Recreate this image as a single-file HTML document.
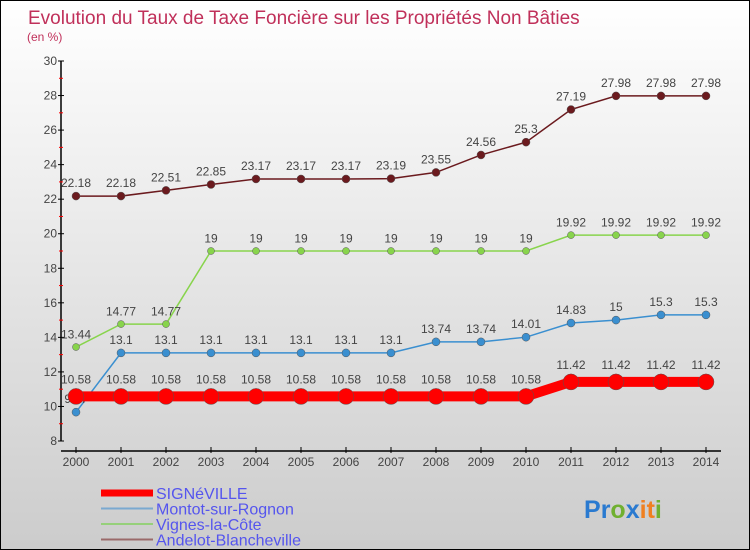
<!DOCTYPE html>
<html><head><meta charset="utf-8"><style>
body{margin:0}
#c{width:750px;height:550px;position:relative;overflow:hidden;background:linear-gradient(#fff,#ccc);box-sizing:border-box;border:1px solid #000;font-family:"Liberation Sans",sans-serif}
</style></head><body>
<div id="c">
<svg id="s" width="750" height="550"></svg>
</div>
<script>
const years=[2000,2001,2002,2003,2004,2005,2006,2007,2008,2009,2010,2011,2012,2013,2014];
const signeville=[10.58,10.58,10.58,10.58,10.58,10.58,10.58,10.58,10.58,10.58,10.58,11.42,11.42,11.42,11.42];
const montot=[9.67,13.1,13.1,13.1,13.1,13.1,13.1,13.1,13.74,13.74,14.01,14.83,15,15.3,15.3];
const vignes=[13.44,14.77,14.77,19,19,19,19,19,19,19,19,19.92,19.92,19.92,19.92];
const andelot=[22.18,22.18,22.51,22.85,23.17,23.17,23.17,23.19,23.55,24.56,25.3,27.19,27.98,27.98,27.98];
const yTicks=[8,10,12,14,16,18,20,22,24,26,28,30];
const seriesNames=["SIGNéVILLE","Montot-sur-Rognon","Vignes-la-Côte","Andelot-Blancheville"];
const NS="http://www.w3.org/2000/svg",s=document.getElementById('s');
const X=i=>75+i*45, Y=v=>440-(v-8)*(380/22);
function el(t,a,txt){const e=document.createElementNS(NS,t);for(const k in a)e.setAttribute(k,a[k]);if(txt!==undefined)e.textContent=txt;s.appendChild(e);return e;}
let e;
e=el('text',{x:27,y:23,'font-size':19,fill:'#c0305a'},'Evolution du Taux de Taxe Foncière sur les Propriétés Non Bâties');

e=el('text',{x:26,y:40,'font-size':12,fill:'#c0305a'},'(en %)');

e=el('line',{x1:60,y1:60,x2:60,y2:440,stroke:'#000','stroke-width':1.5});

yTicks.forEach(v=>{el('line',{x1:57,x2:63,y1:Y(v),y2:Y(v),stroke:'#000'});
 e=el('text',{x:56,y:Y(v)+4,'font-size':12,fill:'#444','text-anchor':'end'},v);
 
 if(v<30)el('line',{x1:58,x2:62,y1:Y(v+1),y2:Y(v+1),stroke:'#f00'});});
e=el('line',{x1:60,y1:450,x2:720,y2:450,stroke:'#000','stroke-width':1.5});

years.forEach((y,i)=>{el('line',{x1:X(i),x2:X(i),y1:446,y2:452,stroke:'#000'});
 e=el('text',{x:X(i),y:465,'font-size':12,fill:'#444','text-anchor':'middle'},y);
 });
function series(d,col,w,r,name){
 e=el('polyline',{points:d.map((v,i)=>X(i)+','+Y(v)).join(' '),fill:'none',stroke:col,'stroke-width':w});
 
 d.forEach((v,i)=>{e=el('circle',{cx:X(i),cy:Y(v),r:r,fill:col,stroke:'#555','stroke-width':0.5});
  
  e=el('text',{x:X(i),y:Y(v)-(r+5),'font-size':12,fill:'#444','text-anchor':'middle'},v);
  });
}
series(andelot,'#6b1a1e',1.5,4,'andelot');
series(vignes,'#88d44c',1.5,3.5,'vignes');
series(montot,'#3a8fd0',1.5,4,'montot');
series(signeville,'#f00',10,8,'signeville');
const lc=['#f00','#7aa9d0','#96d07a','#9a6a6a'],lw=[7,2,2,2];
seriesNames.forEach((n,i)=>{const y=492+i*15.5;
 e=el('line',{x1:100,x2:152,y1:y,y2:y,stroke:lc[i],'stroke-width':lw[i]});
 
 e=el('text',{x:155,y:y+6,'font-size':16,fill:'#55e'},n);
 });
const lg=[['P','#2a7ad0'],['r','#2a7ad0'],['o','#70b030'],['x','#2a7ad0'],['i','#f08020'],['t','#f08020'],['i','#70b030']];
e=el('text',{x:583,y:517,'font-size':25,'font-weight':'bold'});

lg.forEach(([c,col])=>{const t=document.createElementNS(NS,'tspan');t.setAttribute('fill',col);t.textContent=c;e.appendChild(t);});
</script>
</body></html>
